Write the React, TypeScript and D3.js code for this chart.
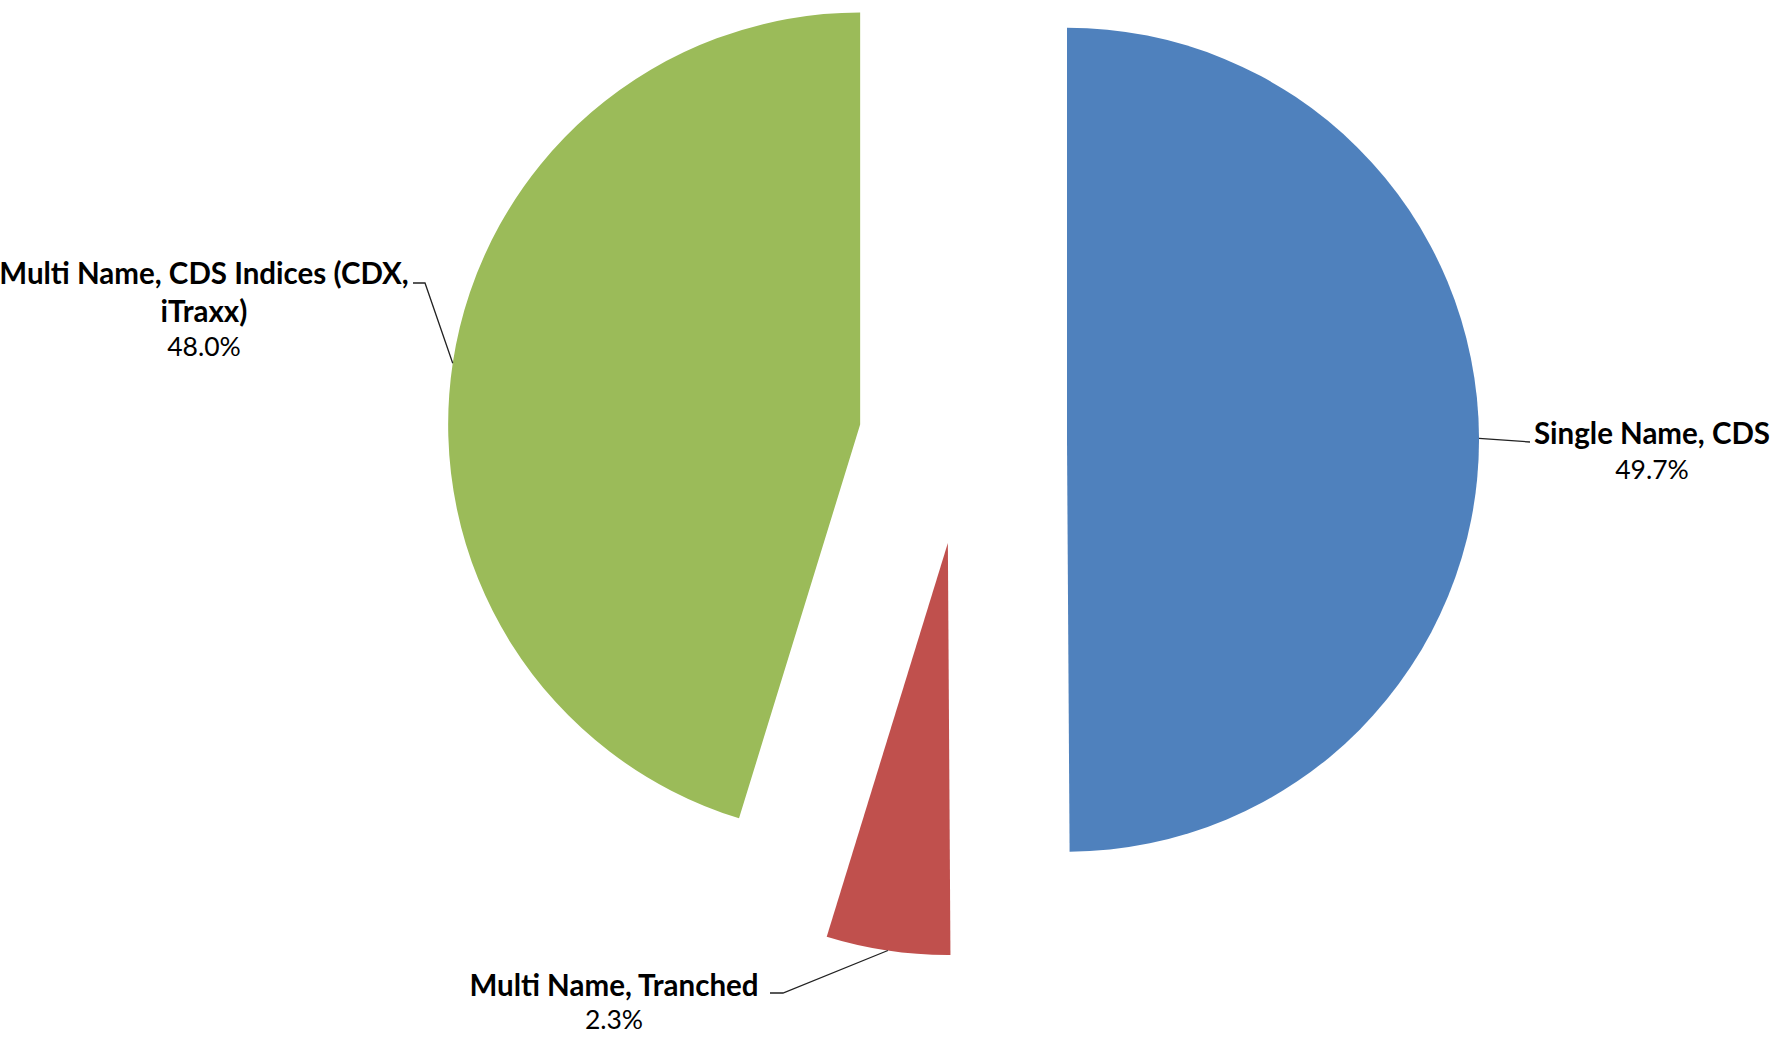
import React from 'react';
import * as d3 from 'd3';

const categories = ['Single Name, CDS', 'Multi Name, Tranched', 'Multi Name, CDS Indices (CDX, iTraxx)'];
const shares = [49.9, 4.85, 45.25];
const pctLabels = ['49.7%', '2.3%', '48.0%'];
const colors = ['#4F81BD', '#C0504D', '#9BBB59'];

// label text lines per slice (wrapped like the original)
const labelLines = [['Single Name, CDS'], ['Multi Name, Tranched'], ['Multi Name, CDS Indices (CDX,', 'iTraxx)']];

const W = 1772;
const H = 1037;
const cx = 963;
const cy = 440;
const radius = 412;
const explode = 104;

// label centre and leader elbow for each slice
const labelPos = [
  { x: 1652, y: 432, elbow: [[1530, 442]] },
  { x: 614, y: 984, elbow: [[783, 993], [770, 993]] },
  { x: 204, y: 272, elbow: [[425, 283], [413, 283]] }
];

const font = 'Lato, "Open Sans", sans-serif';

export default function App() {
  const pie = d3.pie<number>().sort(null).startAngle(0).endAngle(2 * Math.PI);
  const arcs = pie(shares);
  const arc = d3.arc<d3.PieArcDatum<number>>().innerRadius(0).outerRadius(radius);

  return (
    <svg width={W} height={H} style={{ position: 'absolute', left: 0, top: 0, background: '#fff' }}>
      {arcs.map((a, i) => {
        const mid = (a.startAngle + a.endAngle) / 2;
        const ox = cx + explode * Math.sin(mid);
        const oy = cy - explode * Math.cos(mid);
        // leader starts at the middle of the slice's outer edge
        const px = ox + radius * Math.sin(mid);
        const py = oy - radius * Math.cos(mid);
        const pts = [[px, py], ...labelPos[i].elbow];
        const lp = labelPos[i];
        const n = labelLines[i].length;
        return (
          <g key={categories[i]}>
            <path d={arc(a) || ''} transform={`translate(${ox},${oy})`} fill={colors[i]} />
            <polyline
              points={pts.map((p) => p.join(',')).join(' ')}
              fill="none"
              stroke="#222"
              strokeWidth={1.3}
            />
            <text fontFamily={font} fill="#000" textAnchor="middle" dominantBaseline="central">
              {labelLines[i].map((line, j) => (
                <tspan key={j} x={lp.x} y={lp.y + j * 38} fontWeight="bold" fontSize={29.5}>
                  {line}
                </tspan>
              ))}
              <tspan x={lp.x} y={lp.y + n * 37 - (i === 1 ? 2 : 0)} fontSize={26.5}>
                {pctLabels[i]}
              </tspan>
            </text>
          </g>
        );
      })}
    </svg>
  );
}
